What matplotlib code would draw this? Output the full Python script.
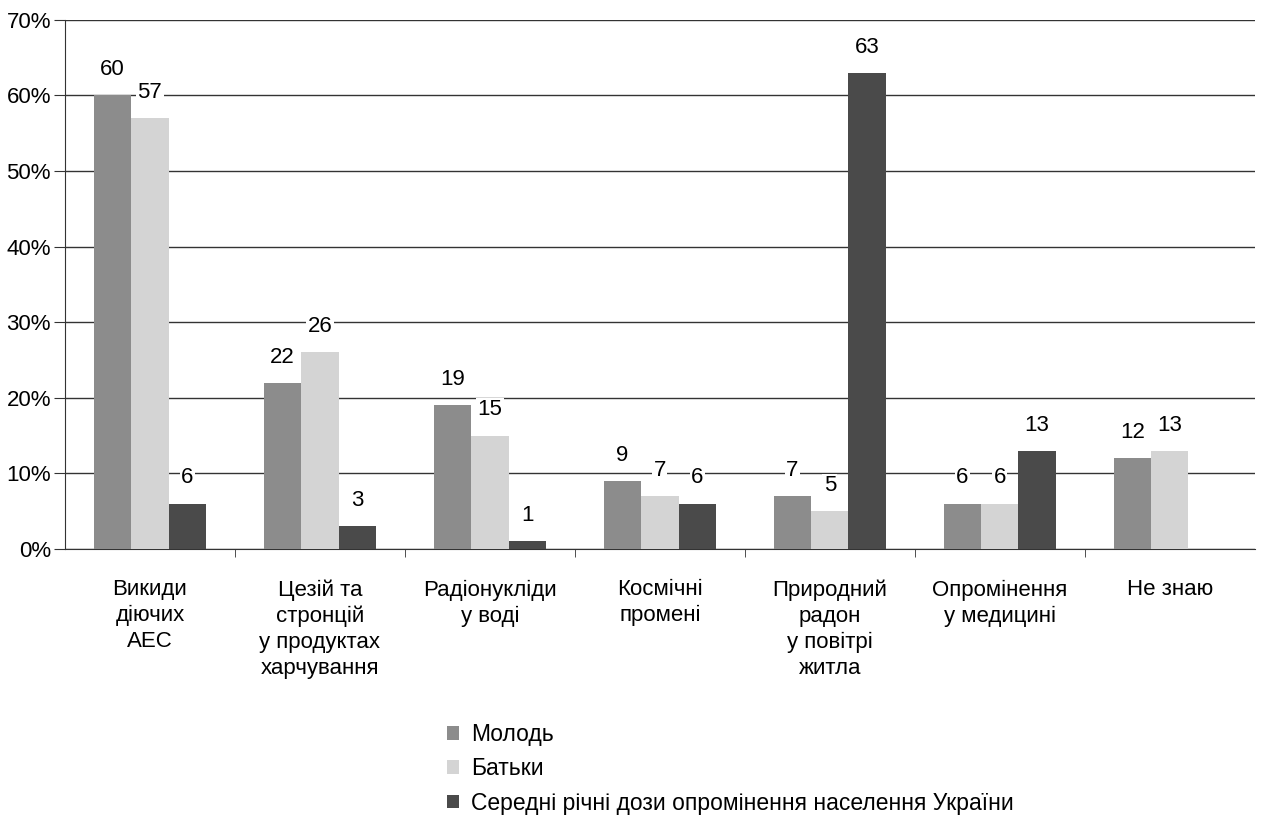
import matplotlib.pyplot as plt
import numpy as np

plt.rcParams['font.family'] = ['Liberation Sans', 'DejaVu Sans']

categories = ['Викиди\nдіючих\nАЕС', 'Цезій та\nстронцій\nу продуктах\nхарчування',
              'Радіонукліди\nу воді', 'Космічні\nпромені', 'Природний\nрадон\nу повітрі\nжитла',
              'Опромінення\nу медицині', 'Не знаю']
molod = [60, 22, 19, 9, 7, 6, 12]
batky = [57, 26, 15, 7, 5, 6, 13]
doses = [6, 3, 1, 6, 63, 13, None]
series_names = ['Молодь', 'Батьки', 'Середні річні дози опромінення населення України']
colors = ['#8c8c8c', '#d4d4d4', '#4a4a4a']

fig = plt.figure(figsize=(12.61, 8.23), dpi=100)
ax = fig.add_axes([0.0515, 0.333, 0.9435, 0.643])

x = np.arange(len(categories))
w = 0.22
for i, (vals, name, c) in enumerate(zip([molod, batky, doses], series_names, colors)):
    xs = [xi + (i - 1) * w for xi, v in zip(x, vals) if v is not None]
    vs = [v for v in vals if v is not None]
    ax.bar(xs, vs, width=w, color=c, label=name, zorder=3)
    for xx, v in zip(xs, vs):
        ax.text(xx, v + 2.0, str(v), ha='center', va='bottom', fontsize=16, zorder=4,
                bbox=dict(facecolor='white', edgecolor='none', pad=1))

ax.set_xlim(-0.5, len(categories) - 0.5)
ax.set_ylim(0, 70)
ax.set_yticks(range(0, 71, 10))
ax.set_yticklabels([f'{t}%' for t in range(0, 71, 10)], fontsize=16)
ax.yaxis.grid(True, color='#333333', linewidth=1.0, zorder=0)
ax.set_xticks(x)
ax.set_xticklabels(categories, fontsize=16, linespacing=1.3)
ax.tick_params(axis='x', length=0, pad=22)
ax.set_xticks(np.arange(0.5, len(categories) - 0.5, 1), minor=True)
ax.tick_params(axis='x', which='minor', length=6, color='#333333')
ax.tick_params(axis='y', length=8, color='#333333', pad=2)
for s in ['top', 'right']:
    ax.spines[s].set_visible(False)
ax.spines['left'].set_color('#333333')
ax.spines['bottom'].set_color('#333333')

fig.legend(loc='upper left', bbox_to_anchor=(0.347, 0.133), frameon=False, fontsize=16.5,
           handlelength=0.55, handleheight=0.55, handletextpad=0.5, labelspacing=0.5,
           borderaxespad=0)

fig.savefig('out.png', dpi=100, facecolor='white')
